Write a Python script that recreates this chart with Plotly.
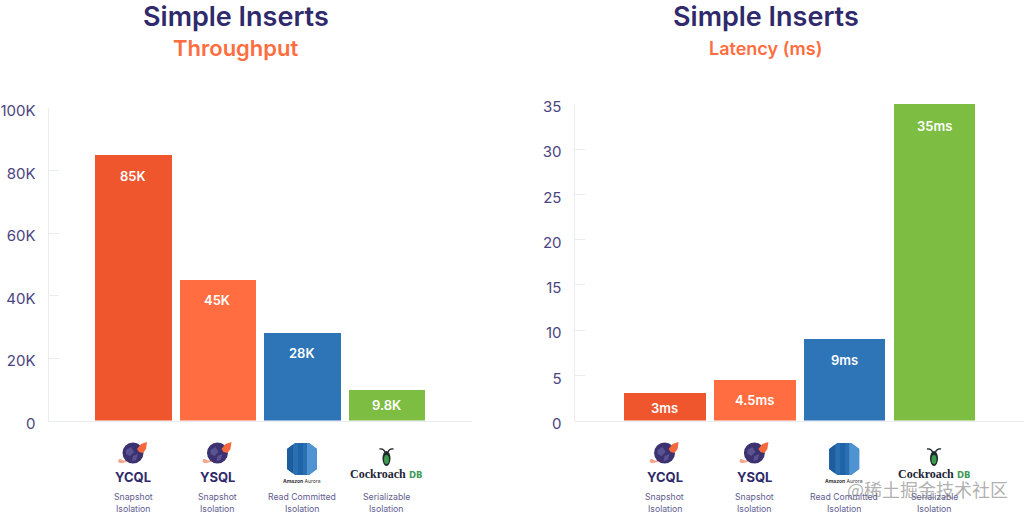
import plotly.graph_objects as go

W, H = 1024, 516

products = ["YCQL", "YSQL", "Aurora", "CockroachDB"]
isolation_line1 = ["Snapshot", "Snapshot", "Read Committed", "Serializable"]
isolation_line2 = ["Isolation", "Isolation", "Isolation", "Isolation"]
bar_colors = ["#EF562E", "#FF6D40", "#2E75B8", "#7DBE42"]

throughput = [85000, 45000, 28000, 9800]
throughput_labels = ["85K", "45K", "28K", "9.8K"]
throughput_ticks = [0, 20000, 40000, 60000, 80000, 100000]
throughput_ticktext = ["0", "20K", "40K", "60K", "80K", "100K"]

latency = [3, 4.5, 9, 35]
latency_labels = ["3ms", "4.5ms", "9ms", "35ms"]
latency_ticks = [0, 5, 10, 15, 20, 25, 30, 35]

throughput_label_drop = [21, 20, 20, 15]
latency_label_drop = [15, 20, 21, 22]

NAVY = "#2F2A6B"
ORANGE = "#FF6D40"
TICK = "#4B4580"
SUB = "#615C8F"
LINE = "#E9ECF0"
FONT = "Inter"


def py(p):
    return 1 - p / H


fig = go.Figure()
fig.add_trace(go.Bar(x=list(range(4)), y=throughput, marker=dict(color=bar_colors, line_width=0),
                     width=0.905, xaxis="x", yaxis="y", showlegend=False, hoverinfo="skip"))
fig.add_trace(go.Bar(x=list(range(4)), y=latency, marker=dict(color=bar_colors, line_width=0),
                     width=0.905, xaxis="x2", yaxis="y2", showlegend=False, hoverinfo="skip"))

ann = []
shapes = []


def text(s, x, y, size, color, xref="paper", weight=None, family=FONT, xshift=0, xanchor="center"):
    font = dict(size=size, color=color, family=family)
    if weight:
        font["weight"] = weight
    ann.append(dict(text=s, x=x, y=py(y), xref=xref, yref="paper", showarrow=False, font=font,
                    xanchor=xanchor, yanchor="middle", xshift=xshift, borderpad=0, borderwidth=0))


def shape(xref, i, y, **kw):
    base = dict(xref=xref, xsizemode="pixel", xanchor=i, yref="paper", ysizemode="pixel",
                yanchor=py(y), layer="above", line=dict(width=0))
    base.update(kw)
    shapes.append(base)


def planet_logo(xref, i):
    # ring behind the planet
    shape(xref, i, 453, type="path",
          path="M -14 -6 C -18 -13 -6 -10 4 -4 L 7 -2 C -3 -7 -11 -9 -12 -6 Z", fillcolor="#F6A68C")
    # planet
    shape(xref, i, 453, type="circle", x0=-10.5, x1=10.5, y0=-10.5, y1=10.5, fillcolor="#3C3270")
    shape(xref, i, 453, type="path", path="M -7 3 L -2 6 L 1 1 L -3 -3 L -7 -1 Z", fillcolor="#5A5392")
    shape(xref, i, 453, type="path", path="M 0 -3 L 5 -1 L 3 -7 L -1 -8 Z", fillcolor="#5A5392")
    # rocket
    shape(xref, i, 453, type="path", path="M 4 4 L 8 9 L 14 11 L 13 4 L 10 0 L 6 1 Z", fillcolor="#F4683C")


def aurora_logo(xref, i):
    y = 459
    shape(xref, i, y, type="path",
          path="M -15 10 L -15 -10 L -7 -16 L 7 -16 L 15 -10 L 15 10 L 7 16 L -7 16 Z", fillcolor="#2A6FB0")
    shape(xref, i, y, type="path", path="M -15 10 L -15 -10 L -9 -14.5 L -9 14.5 Z", fillcolor="#1D5C9E")
    shape(xref, i, y, type="path", path="M -4 16 L -4 -16 L 1 -16 L 1 16 Z", fillcolor="#1F64A8")
    shape(xref, i, y, type="path", path="M 5 16 L 5 -16 L 7 -16 L 15 -10 L 15 10 L 7 16 Z", fillcolor="#4F93D2")


def bug_logo(xref, i):
    y = 457
    shape(xref, i, y, type="path", path="M -7 8 Q -3 9 -1.5 5 M 7 8 Q 3 9 1.5 5",
          line=dict(color="#20282F", width=1.3), fillcolor="rgba(0,0,0,0)")
    shape(xref, i, y, type="circle", x0=-4, x1=4, y0=-9, y1=6, fillcolor="#1E2A2C")
    shape(xref, i, y, type="circle", x0=-2.5, x1=2.5, y0=-7, y1=2, fillcolor="#3F9A4E")


def labels(xref, i):
    if i < 2:
        planet_logo(xref, i)
        text(products[i], i, 477, 13, NAVY, xref=xref, weight=700)
    elif i == 2:
        aurora_logo(xref, i)
        text("<b>Amazon</b> Aurora", i, 480.5, 5, "#333333", xref=xref)
    else:
        bug_logo(xref, i)
        text("Cockroach", i, 474, 12, "#1C2536", xref=xref, weight=700,
             family="Liberation Serif", xshift=-8)
        text("DB", i, 474.5, 8.5, "#3E9A58", xref=xref, weight=700, family="DejaVu Sans", xshift=30)
    text(isolation_line1[i], i, 496.5, 8.7, SUB, xref=xref)
    text(isolation_line2[i], i, 508.5, 8.7, SUB, xref=xref)


for i in range(4):
    labels("x", i)
    labels("x2", i)
    ann.append(dict(text=throughput_labels[i], x=i, y=throughput[i], xref="x", yref="y", showarrow=False,
                    yshift=-throughput_label_drop[i], font=dict(size=13, color="#FFFFFF", family=FONT, weight=600)))
    ann.append(dict(text=latency_labels[i], x=i, y=latency[i], xref="x2", yref="y2", showarrow=False,
                    yshift=-latency_label_drop[i], font=dict(size=13, color="#FFFFFF", family=FONT, weight=600)))

text("Simple Inserts", 236 / W, 16.2, 27, NAVY, weight=600)
text("Throughput", 236 / W, 48, 22, ORANGE, weight=600)
text("Simple Inserts", 765.5 / W, 16.2, 27, NAVY, weight=600)
text("Latency (ms)", 765.5 / W, 49, 18, ORANGE, weight=600)
text("@稀土掘金技术社区", 927 / W, 488.5, 18, "rgba(125,125,125,0.62)", family="Noto Sans CJK SC")

yaxis_common = dict(showgrid=False, zeroline=False, showline=True, linecolor=LINE, linewidth=1,
                    ticks="inside", ticklen=10, tickwidth=1, tickcolor=LINE,
                    tickfont=dict(size=15, color=TICK, family=FONT),
                    ticklabelstandoff=9, ticklabelshift=3)
xaxis_common = dict(showgrid=False, zeroline=False, showline=True, linecolor=LINE, linewidth=1,
                    showticklabels=False, ticks="")

fig.update_layout(
    width=W, height=H, margin=dict(l=0, r=0, t=0, b=0, pad=0, autoexpand=False),
    paper_bgcolor="white", plot_bgcolor="white",
    bargap=0, showlegend=False,
    xaxis=dict(domain=[48.5 / W, 472 / W], range=[-1.0, 4.012], **xaxis_common),
    yaxis=dict(domain=[py(420.5), py(108)], range=[0, 100000], anchor="x",
               tickvals=throughput_ticks, ticktext=throughput_ticktext, **yaxis_common),
    xaxis2=dict(domain=[574.5 / W, 1], range=[-1.003, 4.002], anchor="y2", **xaxis_common),
    yaxis2=dict(domain=[py(420.5), py(104)], range=[0, 35], anchor="x2",
                tickvals=latency_ticks, **yaxis_common),
    annotations=ann, shapes=shapes,
)

fig.write_html("out.html", config=dict(displayModeBar=False),
               post_script="document.body.style.margin='0';document.body.style.overflow='hidden';")
